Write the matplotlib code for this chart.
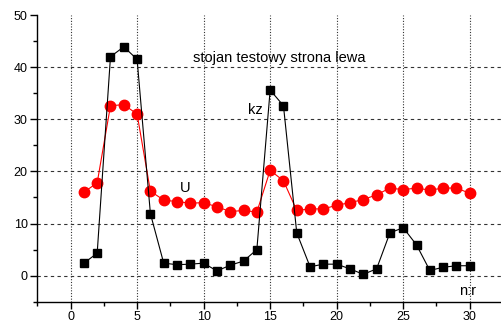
import matplotlib
matplotlib.use("Agg")
import matplotlib.pyplot as plt
from matplotlib.ticker import MultipleLocator

nr = list(range(1, 31))
kz = [2.4, 4.3, 42.0, 43.9, 41.5, 11.9, 2.4, 2.1, 2.2, 2.4,
      0.9, 2.0, 2.8, 5.0, 35.6, 32.6, 8.2, 1.7, 2.2, 2.2,
      1.3, 0.25, 1.3, 8.2, 9.2, 5.9, 1.0, 1.6, 1.9, 1.9]
U = [16.0, 17.8, 32.6, 32.8, 31.0, 16.2, 14.5, 14.2, 13.9, 14.0,
     13.2, 12.3, 12.5, 12.2, 20.2, 18.2, 12.5, 12.8, 12.8, 13.5,
     14.0, 14.6, 15.5, 16.8, 16.5, 16.8, 16.4, 16.8, 16.8, 15.8]

plt.rcParams['font.family'] = ['Liberation Sans', 'DejaVu Sans']

fig = plt.figure(figsize=(5.01, 3.23), dpi=100)
ax = fig.add_axes([37.3 / 501, (323 - 301.7) / 323, 1 - 37.3 / 501, (301.7 - 15) / 323])

ax.set_xlim(-2.5, 32.35)
ax.set_ylim(-5, 50)

for y in [0, 10, 20, 30, 40]:
    ax.axhline(y, color='#333333', lw=0.8, ls=(0, (3, 3)), zorder=1)
for x in [0, 5, 10, 15, 20, 25, 30]:
    ax.axvline(x, color='#333333', lw=0.8, ls=(0, (1, 1.5)), zorder=1)

ax.plot(nr, U, color='red', lw=0.8, marker='o', markersize=7.5,
        markerfacecolor='red', markeredgecolor='red', zorder=3)
ax.plot(nr, kz, color='black', lw=0.8, marker='s', markersize=6.3,
        markerfacecolor='black', markeredgecolor='black', zorder=4)

ax.text(9.2, 41.8, 'stojan testowy strona lewa', fontsize=10.5, va='center', ha='left')
ax.text(13.3, 31.8, 'kz', fontsize=10.5, va='center', ha='left')
ax.text(8.2, 16.9, 'U', fontsize=10.5, va='center', ha='left')
ax.text(29.2, -2.9, 'n:r', fontsize=10.5, va='center', ha='left')

for s in ['top', 'right']:
    ax.spines[s].set_visible(False)
ax.spines['left'].set_linewidth(1.0)
ax.spines['bottom'].set_linewidth(1.0)

ax.xaxis.set_major_locator(MultipleLocator(5))
ax.xaxis.set_minor_locator(MultipleLocator(2.5))
ax.yaxis.set_major_locator(MultipleLocator(10))
ax.yaxis.set_minor_locator(MultipleLocator(5))
ax.set_yticks([0, 10, 20, 30, 40, 50])
ax.tick_params(which='major', direction='out', length=5, width=1, labelsize=9, pad=2)
ax.tick_params(which='minor', direction='out', length=3, width=1)

fig.savefig('out.png', dpi=100)
